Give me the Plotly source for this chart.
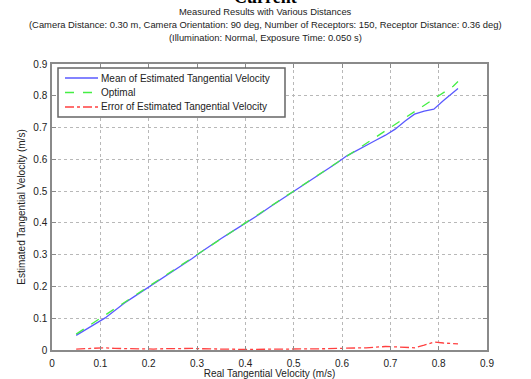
import plotly.graph_objects as go

real_velocity = [0.05, 0.07, 0.09, 0.11, 0.13, 0.15, 0.17, 0.19, 0.21, 0.23, 0.25, 0.27, 0.29, 0.31,
                 0.33, 0.35, 0.37, 0.39, 0.41, 0.43, 0.45, 0.47, 0.49, 0.51, 0.53, 0.55, 0.57, 0.59,
                 0.61, 0.63, 0.65, 0.67, 0.69, 0.71, 0.73, 0.75, 0.77, 0.79, 0.81, 0.83, 0.84]
mean_estimated = [0.046, 0.064, 0.081, 0.101, 0.124, 0.148, 0.168, 0.188, 0.208, 0.227, 0.247, 0.268,
                  0.288, 0.310, 0.331, 0.351, 0.370, 0.389, 0.409, 0.428, 0.449, 0.469, 0.489, 0.509,
                  0.528, 0.548, 0.568, 0.589, 0.611, 0.628, 0.645, 0.660, 0.676, 0.695, 0.720, 0.742,
                  0.752, 0.758, 0.785, 0.810, 0.823]
optimal = [0.05, 0.07, 0.09, 0.11, 0.13, 0.15, 0.17, 0.19, 0.21, 0.23, 0.25, 0.27, 0.29, 0.31,
           0.33, 0.35, 0.37, 0.39, 0.41, 0.43, 0.45, 0.47, 0.49, 0.51, 0.53, 0.55, 0.57, 0.59,
           0.61, 0.63, 0.65, 0.67, 0.69, 0.71, 0.73, 0.75, 0.77, 0.79, 0.81, 0.83, 0.845]
error_estimated = [0.003, 0.004, 0.006, 0.007, 0.005, 0.004, 0.003, 0.002, 0.003, 0.004, 0.005, 0.004,
                   0.005, 0.004, 0.003, 0.002, 0.002, 0.002, 0.002, 0.002, 0.002, 0.002, 0.002, 0.003,
                   0.003, 0.004, 0.004, 0.005, 0.005, 0.006, 0.007, 0.009, 0.011, 0.010, 0.008, 0.007,
                   0.015, 0.025, 0.022, 0.021, 0.019]

tick_vals = [0, 0.1, 0.2, 0.3, 0.4, 0.5, 0.6, 0.7, 0.8, 0.9]
tick_text = ["0", "0.1", "0.2", "0.3", "0.4", "0.5", "0.6", "0.7", "0.8", "0.9"]

series_names = ["Mean of Estimated Tangential Velocity", "Optimal",
                "Error of Estimated Tangential Velocity"]
series_colors = ["#5a5aff", "#44ee44", "#ff4040"]
series_dashes = ["solid", "dash", "dashdot"]

FONT = "Liberation Sans, Arial, sans-serif"
W, H = 531, 379
ML, MR, MT, MB = 52, 44, 64, 29
plot_w = W - ML - MR
plot_h = H - MT - MB


def px(xpix):
    return (xpix - ML) / plot_w


def py(ypix):
    return (H - MB - ypix) / plot_h


fig = go.Figure()
for yvals, name, color, dash in zip([mean_estimated, optimal, error_estimated],
                                    series_names, series_colors, series_dashes):
    fig.add_trace(go.Scatter(x=real_velocity, y=yvals, mode="lines", name=name,
                             showlegend=False, line=dict(color=color, width=1.3, dash=dash)))

axis_common = dict(
    range=[0, 0.9], tickvals=tick_vals, ticktext=tick_text, automargin=False,
    showgrid=True, gridcolor="#b8b8b8", griddash="dot", gridwidth=1,
    showline=True, linecolor="#8a8a8a", linewidth=1.5, mirror="ticks",
    ticks="inside", ticklen=4, tickcolor="#8a8a8a",
    zeroline=False, tickfont=dict(family=FONT, size=10, color="#222"),
)

fig.update_layout(
    width=W, height=H,
    margin=dict(l=ML, r=MR, t=MT, b=MB),
    paper_bgcolor="white", plot_bgcolor="white",
    font=dict(family=FONT, size=10, color="#222"),
    xaxis=dict(axis_common, ticklabelstandoff=3,
               title=dict(text="Real Tangential Velocity (m/s)",
                          font=dict(family=FONT, size=10), standoff=2)),
    yaxis=dict(axis_common, ticklabelstandoff=1,
               title=dict(text="Estimated Tangential Velocity (m/s)",
                          font=dict(family=FONT, size=10), standoff=6)),
    showlegend=False,
)

# Legend (drawn as box + samples + text, MATLAB style)
fig.add_shape(type="rect", xref="paper", yref="paper",
              x0=px(58), x1=px(285), y0=py(117), y1=py(68),
              line=dict(color="#666", width=1.5), fillcolor="white", layer="above")
for i, (name, color, dash) in enumerate(zip(series_names, series_colors, series_dashes)):
    yrow = 78 + i * 14.5
    fig.add_shape(type="line", xref="paper", yref="paper",
                  x0=px(65), x1=px(98), y0=py(yrow), y1=py(yrow),
                  line=dict(color=color, width=1.3, dash=dash), layer="above")
    fig.add_annotation(text=name, x=px(99), y=py(yrow), xref="paper", yref="paper",
                       xanchor="left", yanchor="middle", showarrow=False,
                       font=dict(family=FONT, size=10, color="#222"))

# Titles
fig.add_annotation(text="<b>Current</b>", x=px(265), y=py(9), xref="paper", yref="paper",
                   xanchor="center", yanchor="bottom", showarrow=False,
                   font=dict(family="Liberation Serif, serif", size=18, color="#000"))
for txt, yy in [("Measured Results with Various Distances", 12),
                ("(Camera Distance: 0.30 m, Camera Orientation: 90 deg, Number of Receptors: 150, Receptor Distance: 0.36 deg)", 24.5),
                ("(Illumination: Normal, Exposure Time: 0.050 s)", 37)]:
    fig.add_annotation(text=txt, x=px(265), y=py(yy), xref="paper", yref="paper",
                       xanchor="center", yanchor="middle", showarrow=False,
                       font=dict(family=FONT, size=9.4, color="#222"))

fig.write_html("out.html", config={"displayModeBar": False},
               post_script="document.body.style.margin='0';document.body.style.overflow='hidden';")
